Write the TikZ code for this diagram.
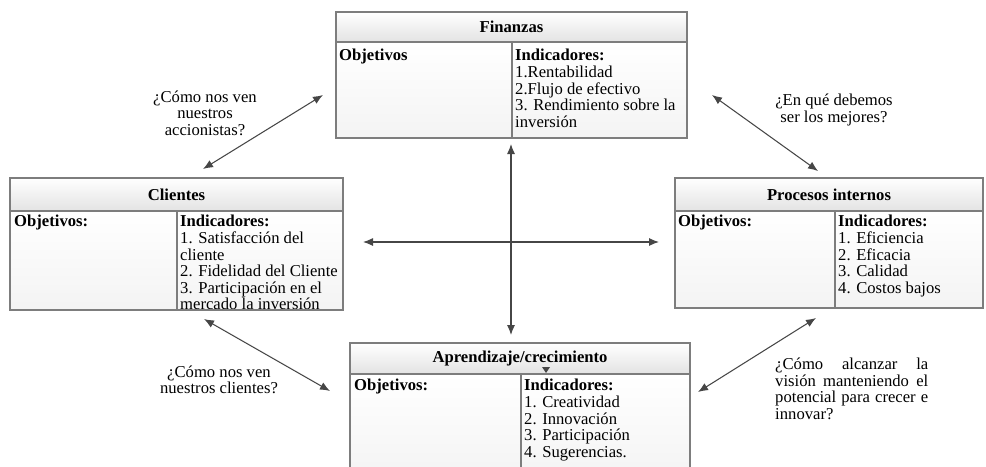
\documentclass[tikz,border=0pt]{standalone}
\usepackage{fontspec}
\setmainfont{Liberation Serif}
\usetikzlibrary{arrows.meta}

\definecolor{boxgray}{RGB}{125,125,125}
\definecolor{linkgray}{RGB}{70,70,70}
\newcommand{\bsctext}{\fontsize{14.2pt}{14.2pt}\selectfont}

\tikzset{
  box/.style={draw=boxgray, line width=1.2pt},
  head/.style={top color=white, bottom color=gray!22},
  body/.style={top color=white, bottom color=gray!9},
  coltext/.style={anchor=north west, inner sep=0pt, align=left, font=\bsctext},
  boxtitle/.style={inner sep=0pt, font=\bsctext\bfseries},
  question/.style={inner sep=0pt, align=center, font=\bsctext},
  link/.style={draw=linkgray, line width=0.9pt,
    {Latex[length=3mm,width=2.4mm]}-{Latex[length=3mm,width=2.4mm]}}
}

\begin{document}
\begin{tikzpicture}[x=0.03cm, y=-0.03cm]
    \useasboundingbox (0,0) rectangle (986,466);
    % Finanzas
    \shade[head] (336,12) rectangle (687,42);
    \shade[body] (336,42) rectangle (687,138);
    \node[boxtitle] (fin) at (511.5,27) {Finanzas};
    \node[coltext] (finobj) at (339,49) {\bfseries Objetivos};
    \node[coltext] (finind) at (515,49) {\bfseries Indicadores:\\1.Rentabilidad\\2.Flujo de efectivo\\3. Rendimiento sobre la\\inversión};
    \draw[box] (336,12) rectangle (687,138);
    \draw[box] (336,42)--(687,42);
    \draw[box] (512,42)--(512,138);
    % Clientes
    \shade[head] (10,178) rectangle (343,211);
    \shade[body] (10,211) rectangle (343,310);
    \node[boxtitle] (cli) at (176.5,194.5) {Clientes};
    \begin{scope}
      \clip (10,211) rectangle (343,310);
      \node[coltext] (cliobj) at (14,215) {\bfseries Objetivos:};
      \node[coltext] (cliind) at (180,215) {\bfseries Indicadores:\\1. Satisfacción del\\cliente\\2. Fidelidad del Cliente\\3. Participación en el\\mercado la inversión};
    \end{scope}
    \draw[box] (10,178) rectangle (343,310);
    \draw[box] (10,211)--(343,211);
    \draw[box] (177,211)--(177,310);
    % Procesos internos
    \shade[head] (675,178) rectangle (983,211);
    \shade[body] (675,211) rectangle (983,308);
    \node[boxtitle] (pro) at (829,194.5) {Procesos internos};
    \node[coltext] (proobj) at (678,215) {\bfseries Objetivos:};
    \node[coltext] (proind) at (838,215) {\bfseries Indicadores:\\1. Eficiencia\\2. Eficacia\\3. Calidad\\4. Costos bajos};
    \draw[box] (675,178) rectangle (983,308);
    \draw[box] (675,211)--(983,211);
    \draw[box] (835,211)--(835,308);
    % Aprendizaje/crecimiento
    \shade[head] (350,343) rectangle (690,374);
    \shade[body] (350,374) rectangle (690,480);
    \node[boxtitle] (apr) at (520,358) {Aprendizaje/crecimiento};
    \node[coltext] (aprobj) at (354,379) {\bfseries Objetivos:};
    \node[coltext] (aprind) at (524,379) {\bfseries Indicadores:\\1. Creatividad\\2. Innovación\\3. Participación\\4. Sugerencias.};
    \draw[box] (350,343) rectangle (690,480);
    \draw[box] (350,374)--(690,374);
    \draw[box] (521,374)--(521,480);
    \fill[linkgray] (542,367)--(550,367)--(546,373)--cycle;
    %
    \node[question] (qacc) at (205,113) {¿Cómo nos ven\\nuestros\\accionistas?};
    \node[question] (qmej) at (834,110) {¿En qué debemos\\ser los mejores?};
    \node[question] (qcli) at (219,380) {¿Cómo nos ven\\nuestros clientes?};
    \node[question, anchor=west, align=left] (qinn) at (775,389) {%
      \makebox[4.59cm][s]{¿Cómo alcanzar la}\\
      \makebox[4.59cm][s]{visión manteniendo el}\\
      \makebox[4.59cm][s]{potencial para crecer e}\\
      innovar?};
    %
    \coordinate (finN) at (511,144);
    \coordinate (aprN) at (511,335);
    \coordinate (cliE) at (363,242);
    \coordinate (proW) at (659,242);
    \coordinate (finSW) at (323,95);
    \coordinate (cliNE) at (203,169);
    \coordinate (finSE) at (712,95);
    \coordinate (proNW) at (818,171);
    \coordinate (cliSE) at (204,319);
    \coordinate (aprNW) at (330,391);
    \coordinate (proSW) at (816,318);
    \coordinate (aprNE) at (698,392);
    \draw[link] (finN) -- (aprN);
    \draw[link] (cliE) -- (proW);
    \draw[link] (finSW) -- (cliNE);
    \draw[link] (finSE) -- (proNW);
    \draw[link] (cliSE) -- (aprNW);
    \draw[link] (proSW) -- (aprNE);
\end{tikzpicture}
\end{document}
